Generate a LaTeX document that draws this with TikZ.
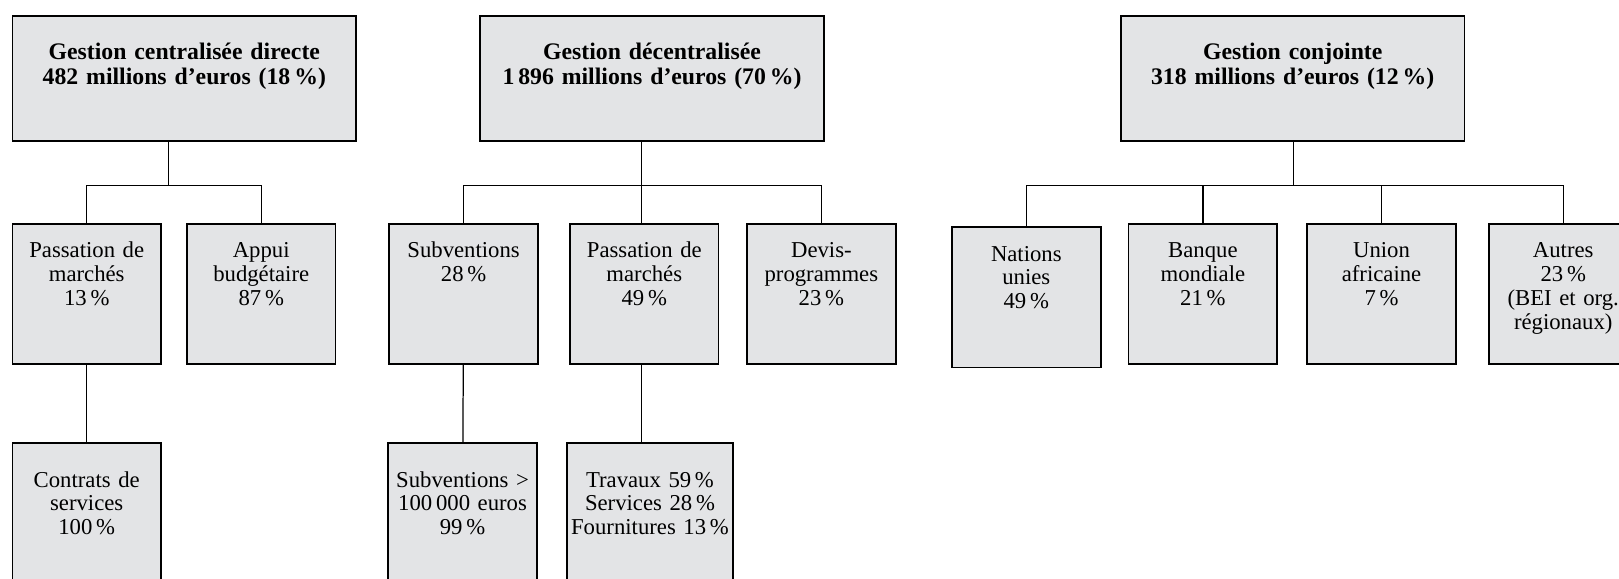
\documentclass[tikz,border=0pt]{standalone}
\usepackage{fontspec}
\setmainfont{Liberation Serif}
\usepackage{tikz}
\definecolor{panelgray}{RGB}{227,228,230}

\begin{document}
\begin{tikzpicture}[x=0.5pt,y=-0.5pt,line width=0.6pt,
    headbox/.style={draw,fill=panelgray,line width=0.8pt,anchor=north,align=center,
        font=\bfseries\fontsize{11.5}{12}\selectfont,text width=166.5pt,inner xsep=0pt,
        inner ysep=13pt,text height=8pt,text depth=26.5pt},
    unitbox/.style={draw,fill=panelgray,line width=0.8pt,anchor=north,align=center,
        font=\fontsize{11}{11.5}\selectfont,text width=72pt,inner xsep=0pt,
        inner ysep=8.5pt,text height=8pt,text depth=43pt},
    lowbox/.style={unitbox,inner ysep=13.5pt,text depth=33pt}]
          \useasboundingbox (0,0) rectangle (1568,560);
          \clip (0,0) rectangle (1568,560);

          \node[headbox] (centr) at (178.5,15) {Gestion centralisée directe\\482 millions d’euros (18\,\%)};
          \node[headbox] (decentr) at (631.5,15) {Gestion décentralisée\\1\,896 millions d’euros (70\,\%)};
          \node[headbox] (conj) at (1252,15) {Gestion conjointe\\318 millions d’euros (12\,\%)};

          \node[unitbox] (cmarch) at (84,216) {Passation de\\marchés\\13\,\%};
          \node[unitbox] (appui) at (253,216) {Appui\\budgétaire\\87\,\%};
          \node[unitbox] (subv) at (449,216) {Subventions\\28\,\%};
          \node[unitbox] (dmarch) at (624,216) {Passation de\\marchés\\49\,\%};
          \node[unitbox] (devis) at (795.5,216) {Devis-\\programmes\\23\,\%};
          \node[unitbox] (onu) at (994,219) {Nations\\unies\\49\,\%};
          \node[unitbox] (bm) at (1165,216) {Banque\\mondiale\\21\,\%};
          \node[unitbox] (ua) at (1338,216) {Union\\africaine\\7\,\%};
          \node[unitbox] (autres) at (1514,216) {Autres\\23\,\%\\(BEI et org.\\régionaux)};

          \node[lowbox] (contr) at (84,428) {Contrats de\\services\\100\,\%};
          \node[lowbox] (grosses) at (448,428) {Subventions >\\100\,000 euros\\99\,\%};
          \node[lowbox,text width=80.5pt] (trav) at (629.5,428) {Travaux 59\,\%\\Services 28\,\%\\Fournitures 13\,\%};

          \coordinate (j1) at (163,180);
          \coordinate (j2) at (621,180);
          \coordinate (j3) at (1253,180);

          \draw (j1 |- centr.south) -- (j1);
          \draw (cmarch) |- (j1) -| (appui);
          \draw (cmarch) -- (contr);

          \draw (j2 |- decentr.south) -- (j2);
          \draw (subv) |- (j2) -| (devis);
          \draw (j2) -- (j2 |- dmarch.north);
          \draw (subv) -- (grosses);
          \draw (j2 |- dmarch.south) -- (j2 |- trav.north);

          \draw (j3 |- conj.south) -- (j3);
          \draw (onu) |- (j3) -| (autres);
          \draw (bm) |- (j3);
          \draw (ua) |- (j3);
        \end{tikzpicture}
\end{document}
